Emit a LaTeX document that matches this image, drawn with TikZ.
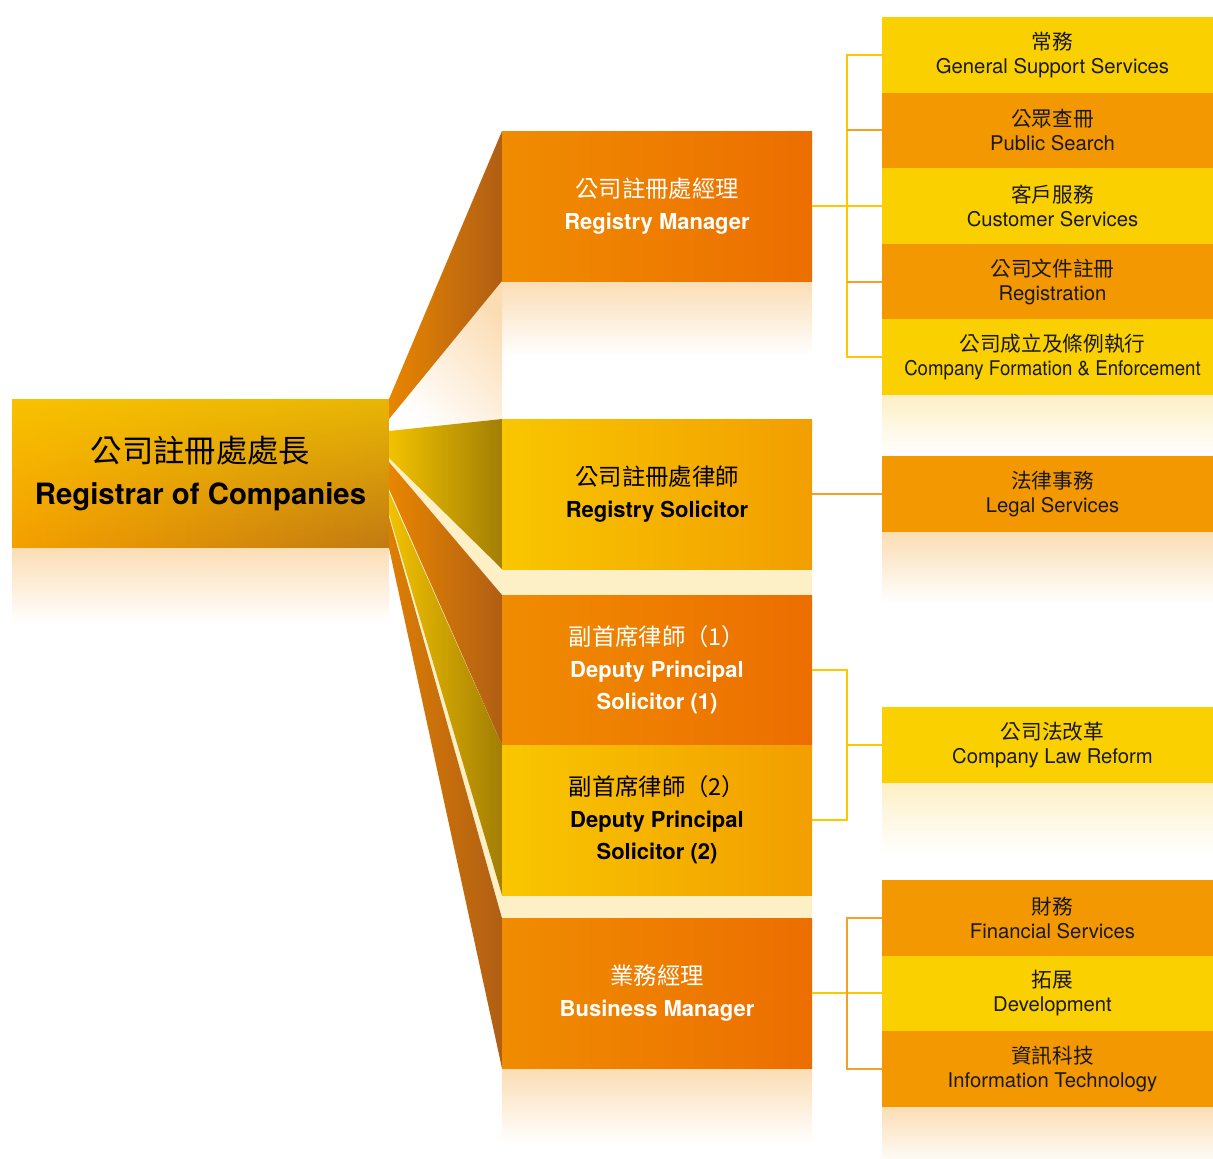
\documentclass[tikz,border=0pt]{standalone}
\usepackage{fontspec}
\setmainfont{TeX Gyre Heros}
\newfontfamily\cjk{Noto Sans CJK TC}
\usetikzlibrary{positioning, calc}
\usetikzlibrary{backgrounds, fadings}
\definecolor{rootL}{HTML}{F5A000}
\definecolor{rootR}{HTML}{C27A12}
\definecolor{rootY}{HTML}{FAD000}
\definecolor{midOL}{HTML}{F08C00}
\definecolor{midOR}{HTML}{EC6E00}
\definecolor{midYL}{HTML}{F9C600}
\definecolor{midYR}{HTML}{F29E00}
\definecolor{boxY}{HTML}{FAD000}
\definecolor{boxO}{HTML}{F39800}
\definecolor{lineY}{HTML}{FCC800}
\definecolor{lineO}{HTML}{F5A028}
\definecolor{refl}{HTML}{FBDDB4}
\definecolor{cream}{HTML}{FDF0C6}
\definecolor{wedgeOL}{HTML}{E88600}
\definecolor{wedgeOR}{HTML}{B05E14}
\definecolor{wedgeYL}{HTML}{F2C200}
\definecolor{wedgeYR}{HTML}{A27E04}
\tikzset{
	head/.style={rectangle, inner sep=0pt, outer sep=0pt, minimum width=282.75pt, minimum height=111.75pt, align=center, font=\fontsize{22}{32}\selectfont\bfseries},
	unitO/.style={rectangle, inner sep=0pt, outer sep=0pt, minimum width=232.5pt, minimum height=112.5pt, left color=midOL, right color=midOR, text=white, align=center, font=\fontsize{16.5}{24}\selectfont\bfseries},
	unitY/.style={unitO, left color=midYL, right color=midYR, text=black},
	secO/.style={rectangle, inner sep=0pt, outer sep=0pt, minimum width=255.75pt, minimum height=56.7pt, fill=boxO, text=black!90, align=center, font=\fontsize{15.2}{18}\selectfont},
	secY/.style={secO, fill=boxY},
	% connectors
	linkY/.style={line width=1.5pt, draw=lineY},
	linkO/.style={line width=1.5pt, draw=lineO},
}
\newcommand{\zhm}[1]{{\cjk\mdseries\fontsize{17.5}{24}\selectfont #1}}
\newcommand{\zhs}[1]{{\cjk\fontsize{15.5}{18}\selectfont #1}}

\begin{document}
\begin{tikzpicture}[x=0.75pt, y=-0.75pt]
	\useasboundingbox (0,0) rectangle (1213,1158);
	
	\node (root) [head] at (200.5,473.5) {{\cjk\mdseries\fontsize{23.5}{32}\selectfont 公司註冊處處長}\\Registrar of Companies};
	
	\node (mgr) [unitO] at (657,206) {\zhm{公司註冊處經理}\\Registry Manager};
	\node (sol) [unitY, below=103.5pt of mgr] {\zhm{公司註冊處律師}\\Registry Solicitor};
	\node (dps1) [unitO, below=19.5pt of sol] {\zhm{副首席律師（1）}\\Deputy Principal\\Solicitor (1)};
	\node (dps2) [unitY, below=0pt of dps1] {\zhm{副首席律師（2）}\\Deputy Principal\\Solicitor (2)};
	\node (bus) [unitO, below=17.5pt of dps2] {\zhm{業務經理}\\Business Manager};
	
	\node (cs) [secY, right=52.5pt of mgr] {\zhs{客戶服務}\\Customer Services};
	\node (ps) [secO, above=0pt of cs] {\zhs{公眾查冊}\\Public Search};
	\node (gss) [secY, above=0pt of ps] {\zhs{常務}\\General Support Services};
	\node (reg) [secO, below=0pt of cs] {\zhs{公司文件註冊}\\Registration};
	\node (cfe) [secY, below=0pt of reg] {\zhs{公司成立及條例執行}\\\scalebox{0.92}[1]{Company Formation \& Enforcement}};
	\node (legal) [secO, right=52.5pt of sol] {\zhs{法律事務}\\Legal Services};
	\node (clr) [secY, right=52.5pt of dps1.south east] {\zhs{公司法改革}\\Company Law Reform};
	\node (dev) [secY, right=52.5pt of bus] {\zhs{拓展}\\Development};
	\node (fin) [secO, above=0pt of dev] {\zhs{財務}\\Financial Services};
	\node (it) [secO, below=0pt of dev] {\zhs{資訊科技}\\Information Technology};
	
	\coordinate (mgrJ) at ($(mgr.east)!0.5!(cs.west)$);
	\coordinate (dpsJ) at ($(dps1.east)!0.5!(clr.west)$);
	\coordinate (busJ) at ($(bus.east)!0.5!(dev.west)$);
	
	\begin{scope}[on background layer]
		% head box
		\shade[left color=rootL, right color=rootR] (root.north west) rectangle (root.south east);
		\fill[rootY, path fading=south, fill opacity=0.7] (root.north west) rectangle (root.south east);
		% reflections
		\shade[top color=refl, bottom color=white] (root.south west) rectangle ($(root.south east)+(0,75)$);
		\shade[top color=refl, bottom color=white] (mgr.south west) rectangle ($(mgr.south east)+(0,75)$);
		\shade[top color=refl, bottom color=white, shading angle=-45] ($(root.north east)+(0,20)$) -- (mgr.south west) -- (sol.north west) -- ($(root.north east)+(0,32)$) -- cycle;
		\fill[cream] (sol.south west) rectangle (dps1.north east);
		\fill[cream] ($(root.north east)+(0,59)$) -- (sol.south west) -- (dps1.north west) -- ($(root.north east)+(0,63)$) -- cycle;
		\fill[cream!60] ($(root.north east)+(0,90)$) -- (dps1.south west) -- ($(root.north east)+(0,93)$) -- cycle;
		\fill[cream] (dps2.south west) rectangle (bus.north east);
		\fill[cream] ($(root.north east)+(0,115)$) -- (dps2.south west) -- (bus.north west) -- ($(root.north east)+(0,118)$) -- cycle;
		\shade[top color=refl, bottom color=white] (bus.south west) rectangle ($(bus.south east)+(0,75)$);
		\shade[top color=cream, bottom color=white] (cfe.south west) rectangle (legal.north east);
		\shade[top color=refl, bottom color=white] (legal.south west) rectangle ($(legal.south east)+(0,72)$);
		\shade[top color=cream, bottom color=white] (clr.south west) rectangle ($(clr.south east)+(0,72)$);
		\shade[top color=refl, bottom color=white] (it.south west) rectangle ($(it.south east)+(0,60)$);
		
		% fan
		\shade[left color=wedgeOL, right color=wedgeOR] (root.north east) -- (mgr.north west) -- (mgr.south west) -- ($(root.north east)+(0,20)$) -- cycle;
		\shade[left color=wedgeYL, right color=wedgeYR] ($(root.north east)+(0,32)$) -- (sol.north west) -- (sol.south west) -- ($(root.north east)+(0,59)$) -- cycle;
		\shade[left color=wedgeOL, right color=wedgeOR] ($(root.north east)+(0,63)$) -- (dps1.north west) -- (dps1.south west) -- ($(root.north east)+(0,90)$) -- cycle;
		\shade[left color=wedgeYL, right color=wedgeYR] ($(root.north east)+(0,93)$) -- (dps2.north west) -- (dps2.south west) -- ($(root.north east)+(0,115)$) -- cycle;
		\shade[left color=wedgeOL!80!wedgeOR, right color=wedgeOR] ($(root.north east)+(0,118)$) -- (bus.north west) -- (bus.south west) -- (root.south east) -- cycle;
	\end{scope}
	
	\draw[linkY] (mgr.east) -- (cs.west);
	\draw[linkY] (gss.west) -- (gss.west -| mgrJ) |- (cfe.west);
	\draw[linkO] (ps.west) -- (ps.west -| mgrJ);
	\draw[linkO] (reg.west) -- (reg.west -| mgrJ);
	\draw[linkO] (sol.east) -- (legal.west);
	\draw[linkY] (dps1.east) -- (dps1.east -| dpsJ) |- (dps2.east);
	\draw[linkY] (clr.west -| dpsJ) -- (clr.west);
	\draw[linkY] (bus.east) -- (dev.west);
	\draw[linkO] (fin.west) -- (fin.west -| busJ) |- (it.west);
	
\end{tikzpicture}
\end{document}
